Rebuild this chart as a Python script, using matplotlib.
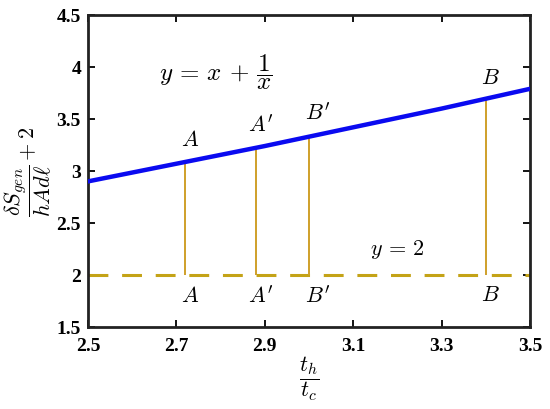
import matplotlib
matplotlib.use("Agg")
import matplotlib.pyplot as plt

# Data
curve_x = [2.5, 2.7, 2.9, 3.1, 3.3, 3.5]
curve_y = [2.90, 3.07, 3.24, 3.42, 3.60, 3.79]
baseline_y = 2.0
point_x = [2.72, 2.88, 3.00, 3.40]
point_top = [3.09, 3.23, 3.33, 3.69]
point_labels = [r"$A$", r"$A'$", r"$B'$", r"$B$"]
xticks = [2.5, 2.7, 2.9, 3.1, 3.3, 3.5]
yticks = [1.5, 2, 2.5, 3, 3.5, 4, 4.5]

plt.rcParams['mathtext.fontset'] = 'cm'
plt.rcParams['font.family'] = ['Liberation Serif', 'DejaVu Serif']

fig = plt.figure(figsize=(5.5, 4.1), dpi=100)
ax = fig.add_axes([0.16, 0.2, 0.8036, 0.761])

gold = '#C4A317'
ax.axhline(baseline_y, color=gold, lw=2.2, dashes=(6.5, 4.5), zorder=2)
ax.vlines(point_x, baseline_y, point_top, color='#CFA02A', lw=1.4, zorder=2)
ax.plot(curve_x, curve_y, color='#0A0AF0', lw=3.2, zorder=3)

top_offsets = [(0.01, 0.21), (0.01, 0.21), (0.02, 0.23), (0.01, 0.2)]
for x, yt, lab, (dx, dy) in zip(point_x, point_top, point_labels, top_offsets):
    ax.text(x + dx, yt + dy, lab, fontsize=16, ha='center', va='center')
    ax.text(x + dx, 1.80, lab, fontsize=16, ha='center', va='center')

ax.text(2.79, 3.96, r"$y\,=\,x\,+\,\dfrac{1}{x}$", fontsize=18, ha='center', va='center')
ax.text(3.2, 2.25, r"$y\,=\,2$", fontsize=16, ha='center', va='center')

ax.set_xlim(2.5, 3.5)
ax.set_ylim(1.5, 4.5)
ax.set_xticks(xticks)
ax.set_yticks(yticks)
ax.set_xticklabels([f"{t:g}" for t in xticks], fontweight='bold', fontsize=14)
ax.set_yticklabels([f"{t:g}" for t in yticks], fontweight='bold', fontsize=14)
ax.tick_params(direction='in', length=5, width=1.3, top=True, right=True)
ax.tick_params(axis='x', pad=7)
ax.tick_params(axis='y', pad=5)
for s in ax.spines.values():
    s.set_linewidth(2)
    s.set_color('#222222')

ax.set_xlabel(r"$\dfrac{t_h}{t_c}$", fontsize=16, labelpad=0)
ax.set_ylabel(r"$\dfrac{\delta S_{gen}}{hAd\ell}+2$", fontsize=16, labelpad=2)

fig.savefig("out.png", dpi=100)
